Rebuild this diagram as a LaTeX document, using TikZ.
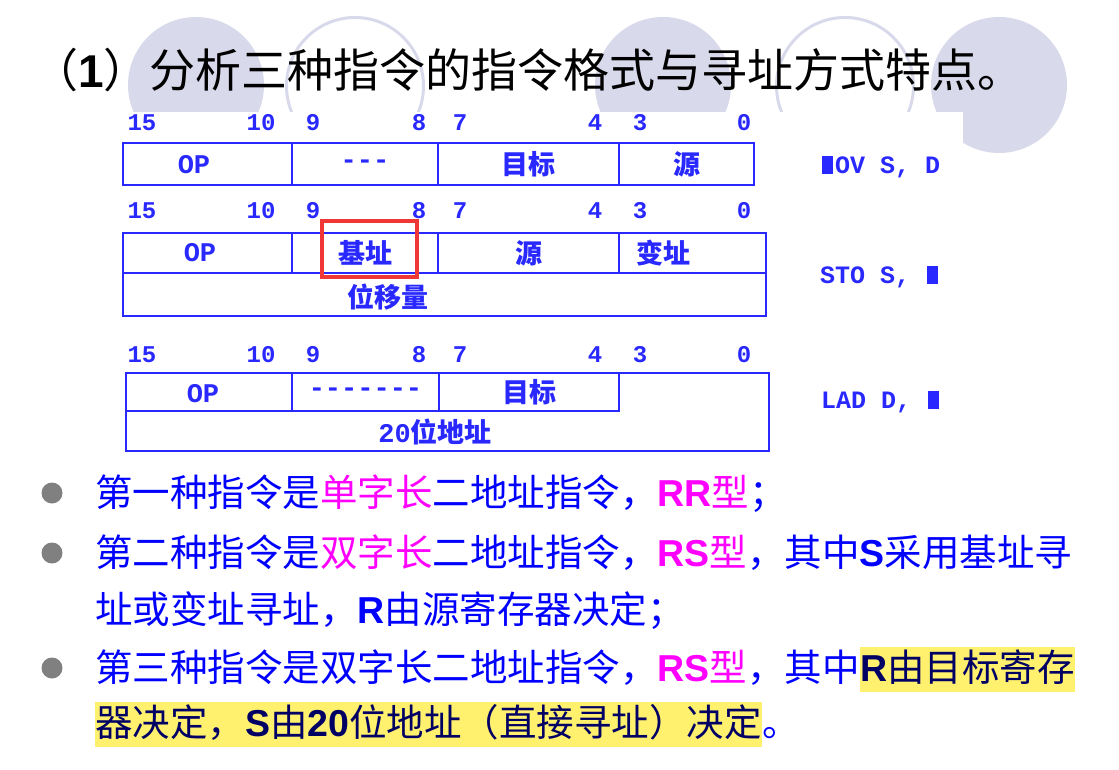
\documentclass[tikz,border=0pt]{standalone}
\usepackage{fontspec}
\setmainfont{Noto Sans CJK SC}
\newfontfamily\latfont{Liberation Sans}
\newfontfamily\monofont{Liberation Mono}[Ligatures=TeXOff]
\usetikzlibrary{positioning}
\definecolor{lav}{RGB}{217,217,236}
\definecolor{tblue}{RGB}{40,40,255}
\definecolor{txtblue}{RGB}{0,0,255}
\definecolor{mag}{RGB}{255,0,255}
\definecolor{navy}{RGB}{0,0,100}
\definecolor{hlyellow}{RGB}{255,240,110}
\definecolor{bgray}{RGB}{128,128,128}
\definecolor{markred}{RGB}{240,55,55}
\newcommand{\lb}[1]{{\latfont\bfseries #1}}
\newcommand{\mb}{\makebox[0.6em][c]{\rule{0.46em}{0.7em}}}
\tikzset{
  cell/.style={draw=tblue, line width=2pt, inner sep=0pt, text=tblue,
    font=\bfseries\fontsize{27}{27}\selectfont},
  fieldtxt/.style={inner sep=0pt, text=tblue, font=\bfseries\fontsize{27}{27}\selectfont},
  bitnum/.style={inner sep=0pt, text=tblue, font=\monofont\bfseries\fontsize{24}{24}\selectfont},
  opcode/.style={anchor=west, inner sep=0pt, text=tblue, font=\monofont\bfseries\fontsize{25}{25}\selectfont},
  bodytext/.style={anchor=base west, inner sep=0pt, text=txtblue, font=\fontsize{37.5}{45}\selectfont},
  marked/.style={bodytext, fill=hlyellow, text=navy, text height=34.5pt, text depth=10.5pt},
  bullet/.style={circle, fill=bgray, minimum size=21pt, inner sep=0pt},
}
\begin{document}
\begin{tikzpicture}[x=1pt,y=-1pt]
\useasboundingbox (0,0) rectangle (1119,770);

% background circles
\fill[lav] (196,85) circle[radius=68pt];
\draw[lav, line width=3pt] (355,86) circle[radius=68.5pt];
\fill[lav] (663,85) circle[radius=68pt];
\draw[lav, line width=3pt] (845,86) circle[radius=68.5pt];
\fill[lav] (999,85) circle[radius=68pt];
\fill[white] (0,112) rectangle (963,470);

% title
\node[anchor=base west, inner sep=0pt, font=\fontsize{46}{46}\selectfont] (title) at (32,87.5)
  {（\lb{1}）分析三种指令的指令格式与寻址方式特点。};

% bit numbers
\foreach \r/\y in {1/123,2/211,3/355}
  \foreach \b/\x in {15/142,10/261,9/313,8/419,7/460,4/595,3/640,0/744}
    \node[bitnum] (bit\r-\b) at (\x,\y) {\b};

% format 1
\node[cell, minimum width=169pt, minimum height=42pt] (f1op) at (207.5,164) {};
\node[cell, minimum width=146pt, minimum height=42pt] (f1x) at (365,164) {{\monofont ---}};
\node[cell, minimum width=181pt, minimum height=42pt] (f1dst) at (528.5,164) {目标};
\node[cell, minimum width=135pt, minimum height=42pt] (f1src) at (686.5,164) {源};
\node[fieldtxt] (op1) at (194,165) {{\monofont OP}};

% format 2
\node[cell, minimum width=169pt, minimum height=40pt] (f2op) at (207.5,253) {};
\node[cell, minimum width=146pt, minimum height=40pt] (f2base) at (365,253) {基址};
\node[cell, minimum width=181pt, minimum height=40pt] (f2src) at (528.5,253) {源};
\node[cell, minimum width=147pt, minimum height=40pt] (f2idx) at (692.5,253) {};
\node[cell, minimum width=643pt, minimum height=43pt] (f2disp) at (444.5,294.5) {};
\node[fieldtxt] (op2) at (200,253) {{\monofont OP}};
\node[fieldtxt] (idx2) at (663,253) {变址};
\node[fieldtxt] (disp2) at (388,297) {位移量};
\node[draw=markred, line width=4pt, minimum width=95pt, minimum height=56pt] (mark) at (369.5,249) {};

% format 3
\node[cell, minimum width=643pt, minimum height=78pt] (f3frame) at (447.5,412) {};
\node[cell, minimum width=166pt, minimum height=38pt] (f3op) at (209,392) {};
\node[cell, minimum width=147pt, minimum height=38pt] (f3x) at (365.5,392) {{\monofont -------}};
\node[cell, minimum width=180pt, minimum height=38pt] (f3dst) at (529,392) {目标};
\node[fieldtxt] (op3) at (203,394) {{\monofont OP}};
\node[fieldtxt] (addr3) at (435,432) {{\monofont 20}位地址};

% instructions
\node[opcode] (ins1) at (820,167) {\mb OV S, D};
\node[opcode] (ins2) at (820,277) {STO S, \mb};
\node[opcode] (ins3) at (821,402) {LAD D, \mb};

% remarks
\node[bullet] (d1) at (52,493) {};
\node[bullet] (d2) at (52,553) {};
\node[bullet] (d3) at (52,668) {};
\node[bodytext] (l1) at (95,506.5)
  {第一种指令是{\color{mag}单字长}二地址指令，{\color{mag}\lb{RR}型}；};
\node[bodytext] (l2) at (95,566.5)
  {第二种指令是{\color{mag}双字长}二地址指令，{\color{mag}\lb{RS}型}，其中\lb{S}采用基址寻};
\node[bodytext] (l3) at (95,623.5) {址或变址寻址，\lb{R}由源寄存器决定；};
\node[bodytext] (l4a) at (95,681.5)
  {第三种指令是双字长二地址指令，{\color{mag}\lb{RS}型}，其中};
\node[marked] (l4b) at (l4a.base east) {\lb{R}由目标寄存};
\node[marked] (l5a) at (95,736.5) {器决定，\lb{S}由\lb{20}位地址（直接寻址）决定};
\node[bodytext] (l5b) at (l5a.base east) {。};
\end{tikzpicture}
\end{document}
